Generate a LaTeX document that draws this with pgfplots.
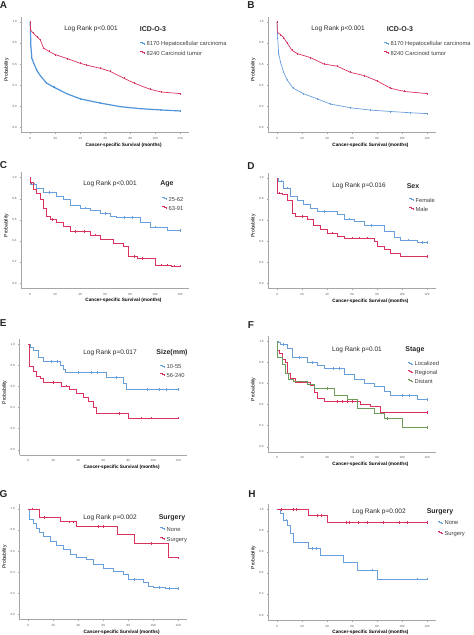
\documentclass[border=0pt]{standalone}
\usepackage{fontspec}
\setmainfont{Liberation Sans}
\usepackage{pgfplots}
\pgfplotsset{compat=1.18}
\definecolor{kmblueA}{RGB}{80,148,218}
\definecolor{kmblue}{RGB}{105,160,220}
\definecolor{kmred}{RGB}{218,50,95}
\definecolor{kmgreen}{RGB}{110,155,90}
\newcommand\fsz[1]{\fontsize{#1bp}{#1bp}\selectfont}
\pgfplotsset{
 km/.style={scale only axis, width=167.5bp, height=116bp,
  xmin=-7, xmax=127, ymin=-0.05, ymax=1.05,
  axis x line*=bottom, axis y line*=left,
  axis line style={-, draw=black!35, line width=0.4bp},
  xtick={0,20,...,120}, ytick={0,0.2,0.4,0.6,0.8,1.0},
  yticklabel style={/pgf/number format/.cd, fixed, fixed zerofill, precision=1},
  /pgf/number format/assume math mode=true,
  tick label style={font=\fsz{3}, text=black!65},
  tick align=outside, major tick length=1.2bp,
  tick style={draw=black!35, line width=0.3bp},
  xlabel={\textbf{Cancer-specific Survival (months)}}, ylabel={Probability},
  xlabel style={font=\fsz{4.7}, at={(axis description cs:0.61,-0.107)}, anchor=center},
  ylabel style={font=\fsz{5}, at={(axis description cs:-0.0896,0.54)}, anchor=center},
  clip=false,
  legend cell align=left,
  legend image code/.code={\draw[##1, line width=0.6bp] (0bp,2.5bp) -- (1.5bp,2.5bp) -- (1.5bp,1.5bp) -- (3.5bp,1.5bp) -- (3.5bp,0.5bp) -- (5bp,0.5bp);},
  legend style={draw=none, fill=none, inner sep=0pt, outer sep=0pt, column sep=1bp,
   anchor=north west, font=\fsz{5.8}, text=black!75,
   nodes={inner sep=0pt, text height=4bp, text depth=1bp}},
 },
 kmline/.style={const plot, line width=0.7bp, mark=none},
 censor/.style={only marks, mark=|, mark size=1.3bp, forget plot, mark options={solid, line width=0.45bp}},
}
\begin{document}
\begin{tikzpicture}
\useasboundingbox (0,0) rectangle (474bp,635bp);
% ---------------- A
\begin{axis}[km, at={(21.5bp,502.4bp)}, anchor=south west,
  legend style={at={(axis description cs:0.7075,0.785)}, row sep=4bp}]
\addplot[color=kmblueA, line width=1.2bp, mark=|, mark size=0.8bp] coordinates {(0,1) (0.5,0.77) (1.3,0.655) (2.7,0.61) (5.3,0.54) (8,0.49) (13,0.42) (19,0.38) (29,0.32) (40,0.27) (56,0.23) (72,0.196) (88,0.177) (104,0.165) (120,0.155)};
\addlegendentry{8170 Hepatocellular carcinoma}
\addplot[color=kmred, line width=0.7bp, mark=|, mark size=1bp] coordinates {(0,1) (0.3,0.92) (2.7,0.89) (5.3,0.86) (8,0.83) (10.7,0.75) (15,0.72) (20,0.69) (30,0.65) (40,0.607) (45,0.59) (56,0.56) (64,0.53) (75,0.465) (83,0.42) (96,0.36) (105,0.335) (120,0.32)};
\addlegendentry{8240 Carcinoid tumor}
\end{axis}
% ---------------- B
\begin{axis}[km, at={(268.3bp,502.4bp)}, anchor=south west,
  legend style={at={(axis description cs:0.691,0.785)}, row sep=4bp}]
\addplot[color=kmblue, line width=0.7bp, mark=|, mark size=1bp] coordinates {(0,1) (0.5,0.85) (1.3,0.70) (2.7,0.62) (5.4,0.52) (8,0.45) (13,0.37) (21,0.32) (32,0.27) (43,0.22) (59,0.185) (75,0.163) (91,0.15) (107,0.138) (120,0.13)};
\addlegendentry{8170 Hepatocellular carcinoma}
\addplot[color=kmred, line width=0.7bp, mark=|, mark size=1bp] coordinates {(0,1) (0.3,0.90) (2.7,0.88) (5.4,0.85) (8,0.80) (12,0.73) (16,0.70) (27,0.66) (37.5,0.60) (48,0.58) (59,0.52) (70,0.49) (80,0.44) (91,0.37) (102,0.34) (120,0.32)};
\addlegendentry{8240 Carcinoid tumor}
\end{axis}
% ---------------- C
\begin{axis}[km, at={(21.3bp,346.7bp)}, anchor=south west,
  legend style={at={(axis description cs:0.840,0.783)}, row sep=3bp}]
\addplot[color=kmblue, kmline] coordinates {(0,1) (0.5,0.94) (5.3,0.90) (10.7,0.86) (21,0.82) (27,0.79) (32,0.74) (40,0.71) (48,0.685) (56,0.66) (64,0.63) (69,0.62) (88,0.58) (96,0.53) (110,0.50) (120,0.50)};
\addlegendentry{25-62}
\addplot[color=kmred, kmline] coordinates {(0,1) (0.5,0.95) (2.7,0.89) (5.3,0.85) (8,0.79) (10.7,0.71) (13.3,0.63) (16,0.60) (21,0.58) (27,0.535) (32,0.49) (48,0.455) (56,0.41) (67,0.376) (75,0.344) (79,0.25) (86,0.23) (100,0.17) (113,0.16) (120,0.16)};
\addlegendentry{63-91}
\addplot[color=kmblue, censor] coordinates {(3,0.94) (15,0.86) (44,0.71) (60,0.66) (75,0.62) (82,0.62) (100,0.53) (120,0.50)};
\addplot[color=kmred, censor] coordinates {(1,0.95) (18,0.60) (36,0.49) (43,0.49) (52,0.455) (83,0.25) (90,0.23) (105,0.17) (110,0.17) (115,0.16) (120,0.16)};
\end{axis}
% ---------------- D
\begin{axis}[km, at={(268.3bp,346.4bp)}, anchor=south west,
  legend style={at={(axis description cs:0.840,0.777)}, row sep=3bp}]
\addplot[color=kmblue, kmline] coordinates {(0,1) (1.3,0.97) (5.4,0.905) (10.7,0.825) (16,0.79) (21,0.746) (27,0.714) (32,0.68) (48,0.65) (54,0.61) (62,0.587) (70,0.546) (86,0.49) (94,0.44) (99,0.41) (112,0.387) (120,0.387)};
\addlegendentry{Female}
\addplot[color=kmred, kmline] coordinates {(0,1) (0.5,0.857) (4,0.84) (8,0.79) (12,0.667) (15,0.635) (24,0.603) (29,0.55) (35,0.51) (40,0.476) (48,0.45) (54,0.43) (78,0.40) (80,0.35) (86,0.32) (91,0.28) (99,0.254) (120,0.254)};
\addlegendentry{Male}
\addplot[color=kmblue, censor] coordinates {(3,0.97) (8,0.905) (38,0.68) (58,0.61) (75,0.546) (105,0.41) (116,0.387) (120,0.387)};
\addplot[color=kmred, censor] coordinates {(2,0.857) (20,0.635) (44,0.476) (60,0.43) (66,0.43) (72,0.43) (120,0.254)};
\end{axis}
% ---------------- E
\begin{axis}[km, at={(19.5bp,180bp)}, anchor=south west,
  legend style={at={(axis description cs:0.839,0.780)}, row sep=3bp}]
\addplot[color=kmblue, kmline] coordinates {(0,1) (1.3,0.97) (4,0.946) (8,0.88) (12,0.836) (25.3,0.80) (28,0.76) (29.3,0.735) (62.7,0.685) (76,0.63) (78.7,0.57) (120,0.57)};
\addlegendentry{10-55}
\addplot[color=kmred, kmline] coordinates {(0,1) (0.5,0.79) (4,0.74) (6.7,0.70) (9.3,0.68) (12,0.64) (26.7,0.605) (33,0.57) (38.7,0.536) (44,0.50) (48,0.46) (52,0.40) (54.7,0.345) (80,0.30) (120,0.30)};
\addlegendentry{56-240}
\addplot[color=kmblue, censor] coordinates {(18,0.836) (23,0.836) (40,0.735) (50,0.735) (55,0.735) (70,0.685) (95,0.57) (105,0.57) (110,0.57) (120,0.57)};
\addplot[color=kmred, censor] coordinates {(20,0.64) (30,0.605) (73,0.345) (90,0.30) (98,0.30) (120,0.30)};
\end{axis}
% ---------------- F
\begin{axis}[km, at={(268.3bp,183bp)}, anchor=south west,
  legend style={at={(axis description cs:0.834,0.780)}, row sep=3.5bp}]
\addplot[color=kmblue, kmline] coordinates {(0,1) (1,0.987) (2.7,0.97) (8,0.93) (12,0.845) (24,0.80) (32,0.77) (37.5,0.74) (53.6,0.685) (61.6,0.64) (69.6,0.605) (77.7,0.57) (85.7,0.525) (91,0.484) (112.5,0.446) (120,0.446)};
\addlegendentry{Localized}
\addplot[color=kmred, kmline] coordinates {(0,1) (0.5,0.91) (2,0.89) (4,0.83) (6.7,0.80) (8,0.70) (10.7,0.65) (14.7,0.615) (27,0.58) (29.5,0.52) (32,0.46) (37.5,0.43) (67,0.40) (75,0.38) (83,0.325) (120,0.325)};
\addlegendentry{Regional}
\addplot[color=kmgreen, kmline] coordinates {(0,1) (0.5,0.845) (4,0.78) (6.7,0.70) (9.4,0.64) (13.4,0.62) (24,0.59) (29.5,0.55) (45.5,0.49) (56,0.45) (64,0.36) (77.7,0.32) (85.7,0.27) (100,0.18) (120,0.18)};
\addlegendentry{Distant}
\addplot[color=kmblue, censor] coordinates {(5,0.97) (18,0.845) (28,0.80) (45,0.74) (50,0.74) (100,0.484) (106,0.484) (120,0.446)};
\addplot[color=kmred, censor] coordinates {(18,0.615) (48,0.43) (52,0.43) (56,0.43) (60,0.43) (120,0.325)};
\addplot[color=kmgreen, censor] coordinates {(40,0.55) (88,0.27) (120,0.18)};
\end{axis}
% ---------------- G
\begin{axis}[km, at={(19.5bp,15.4bp)}, anchor=south west,
  legend style={at={(axis description cs:0.839,0.794)}, row sep=4bp}]
\addplot[color=kmblue, kmline] coordinates {(0,1) (0.8,0.90) (4,0.86) (6.7,0.82) (9,0.78) (12,0.74) (17.3,0.69) (22.7,0.653) (28,0.615) (33.3,0.568) (38.7,0.536) (46.7,0.52) (52,0.47) (60,0.44) (68,0.41) (76,0.38) (80,0.33) (92,0.30) (96,0.27) (100,0.252) (110,0.246) (120,0.246)};
\addlegendentry{None}
\addplot[color=kmred, kmline] coordinates {(0,1) (8.5,0.92) (25.3,0.877) (38.7,0.83) (71,0.757) (85,0.672) (112,0.536) (120,0.536)};
\addlegendentry{Surgery}
\addplot[color=kmblue, censor] coordinates {(85,0.33) (105,0.252) (113,0.246) (120,0.246)};
\addplot[color=kmred, censor] coordinates {(3,1.0) (13,0.92) (33,0.877) (36,0.877) (56,0.83) (60,0.83) (98,0.672) (120,0.536)};
\end{axis}
% ---------------- H
\begin{axis}[km, at={(268.3bp,14.7bp)}, anchor=south west,
  legend style={at={(axis description cs:1.013,0.860)}, row sep=5bp}]
\addplot[color=kmblue, kmline] coordinates {(0,1) (2.7,0.962) (5.4,0.90) (8,0.85) (10.7,0.77) (13,0.69) (25,0.63) (34.3,0.565) (53,0.495) (64,0.426) (80,0.34) (120,0.34)};
\addlegendentry{None}
\addplot[color=kmred, kmline] coordinates {(0,1) (25,0.946) (40,0.877) (120,0.877)};
\addlegendentry{Surgery}
\addplot[color=kmblue, censor] coordinates {(7,0.90) (28,0.63) (31,0.63) (76,0.426) (112,0.34) (120,0.34)};
\addplot[color=kmred, censor] coordinates {(3,1) (13,1) (15,1) (32,0.946) (35,0.946) (55,0.877) (58,0.877) (65,0.877) (72,0.877) (85,0.877) (98,0.877) (104,0.877) (120,0.877)};
\end{axis}
% ---------------- annotations
\begin{scope}[every node/.style={text=black!85}]
\node[font=\bfseries\fsz{10}] at (3.5bp,630bp) {A};
\node[font=\bfseries\fsz{10}] at (251bp,629.5bp) {B};
\node[font=\bfseries\fsz{10}] at (3.5bp,470bp) {C};
\node[font=\bfseries\fsz{10}] at (251bp,469.3bp) {D};
\node[font=\bfseries\fsz{10}] at (3.3bp,311.7bp) {E};
\node[font=\bfseries\fsz{10}] at (251bp,310bp) {F};
\node[font=\bfseries\fsz{10}] at (3.5bp,141bp) {G};
\node[font=\bfseries\fsz{10}] at (252bp,140.5bp) {H};
\node[font=\fsz{6.5}] at (91bp,606bp) {Log Rank p<0.001};
\node[font=\bfseries\fsz{7}] at (153bp,606bp) {ICD-O-3};
\node[font=\fsz{6.5}] at (338bp,606bp) {Log Rank p<0.001};
\node[font=\bfseries\fsz{7}] at (400bp,606bp) {ICD-O-3};
\node[font=\fsz{6.5}] at (110bp,451bp) {Log Rank p<0.001};
\node[font=\bfseries\fsz{7}] at (167bp,451bp) {Age};
\node[font=\fsz{6.5}] at (359bp,449bp) {Log Rank p=0.016};
\node[font=\bfseries\fsz{7}] at (413bp,449bp) {Sex};
\node[font=\fsz{6.5}] at (110bp,282bp) {Log Rank p=0.017};
\node[font=\bfseries\fsz{7}] at (172bp,282bp) {Size(mm)};
\node[font=\fsz{6.5}] at (357bp,285bp) {Log Rank p=0.01};
\node[font=\bfseries\fsz{7}] at (415bp,285bp) {Stage};
\node[font=\fsz{6.5}] at (110bp,117bp) {Log Rank p=0.002};
\node[font=\bfseries\fsz{7}] at (172bp,117bp) {Surgery};
\node[font=\fsz{6.5}] at (379bp,123bp) {Log Rank p=0.002};
\node[font=\bfseries\fsz{7}] at (440bp,123bp) {Surgery};
\end{scope}
\end{tikzpicture}
\end{document}
